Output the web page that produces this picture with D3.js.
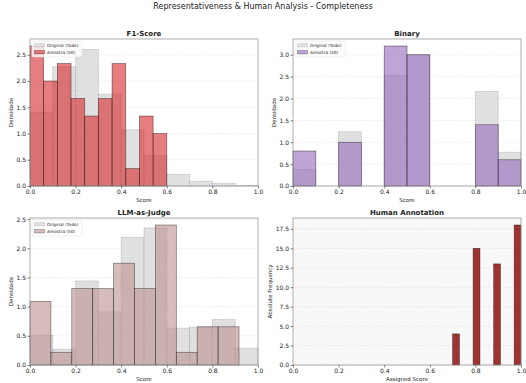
<!DOCTYPE html>
<html>
<head>
<meta charset="utf-8">
<script src="https://cdn.jsdelivr.net/npm/d3@7"></script>
<style>
  body { margin: 0; background: #fff; }
  text { font-family: "DejaVu Sans", sans-serif; fill: #222; }
</style>
</head>
<body>
<div class="chart"></div>
<script>
// bin edges (0..1, width 0.1) shared by the full-population histograms
var originalEdges = [0, 0.1, 0.2, 0.3, 0.4, 0.5, 0.6, 0.7, 0.8, 0.9, 1.0];

// F1-Score
var f1Original = [1.40, 2.27, 2.60, 1.75, 1.07, 0.58, 0.22, 0.09, 0.05, 0.01];
var f1SampleEdges = [0, 0.06, 0.12, 0.18, 0.24, 0.30, 0.36, 0.42, 0.48, 0.54, 0.60];
var f1Sample = [2.667, 2.0, 2.333, 1.667, 1.333, 1.667, 2.333, 0.333, 1.333, 1.0];

// Binary
var binOriginal = [0.38, 0, 1.24, 0, 2.53, 3.0, 0, 0, 2.16, 0.77];
var binSampleEdges = [0, 0.1, 0.2, 0.3, 0.4, 0.5, 0.6, 0.7, 0.8, 0.9, 1.0];
var binSample = [0.8, 0, 1.0, 0, 3.2, 3.0, 0, 0, 1.4, 0.6];

// LLM-as-Judge
var llmOriginal = [0.51, 0.27, 1.44, 0.91, 2.19, 2.35, 0.63, 0.65, 0.78, 0.29];
var llmSampleEdges = [0, 0.0917, 0.1833, 0.275, 0.3667, 0.4583, 0.55, 0.6417, 0.7333, 0.825, 0.9167];
var llmSample = [1.091, 0.218, 1.309, 1.309, 1.745, 1.309, 2.4, 0.218, 0.655, 0.655];

// Human Annotation (absolute counts)
var humanEdges = [0.70, 0.73, 0.76, 0.79, 0.82, 0.85, 0.88, 0.91, 0.94, 0.97, 1.0];
var humanCounts = [4, 0, 0, 15, 0, 0, 13, 0, 0, 18];

var yTicksDensity = [0, 0.5, 1.0, 1.5, 2.0, 2.5];
var yTicksBinary = [0, 0.5, 1.0, 1.5, 2.0, 2.5, 3.0];
var yTicksHuman = [0, 2.5, 5.0, 7.5, 10.0, 12.5, 15.0, 17.5];
var xTicks = [0, 0.2, 0.4, 0.6, 0.8, 1.0];

var svgWidth = 526, svgHeight = 383;

var svg = d3.select(".chart")
    .append("svg")
    .attr("width", svgWidth)
    .attr("height", svgHeight);

svg.append("text")
    .attr("x", 263)
    .attr("y", 9)
    .attr("text-anchor", "middle")
    .style("font-size", "8px")
    .text("Representativeness & Human Analysis - Completeness");

function toBins(edges, values) {
    return values.map(function(v, i) {
        return { x0: edges[i], x1: edges[i + 1], v: v };
    });
}

function drawPanel(opt) {
    var width = opt.right - opt.left;
    var height = opt.bottom - opt.top;
    var g = svg.append("g")
        .attr("transform", "translate(" + opt.left + "," + opt.top + ")");

    var x = d3.scaleLinear().domain([0, 1]).range([0, width]);
    var y = d3.scaleLinear().domain([0, opt.ymax]).range([height, 0]);

    g.append("rect")
        .attr("width", width)
        .attr("height", height)
        .attr("fill", opt.bg || "#fff");

    // dashed horizontal grid
    g.selectAll(".grid")
        .data(opt.yTicks)
        .enter()
        .append("line")
        .attr("x1", 0)
        .attr("x2", width)
        .attr("y1", function(d) { return y(d); })
        .attr("y2", function(d) { return y(d); })
        .attr("stroke", "#d8d8d8")
        .attr("stroke-width", 0.5)
        .attr("stroke-dasharray", "2,1.5");

    if (opt.original) {
        g.selectAll(".orig")
            .data(toBins(originalEdges, opt.original))
            .enter()
            .append("rect")
            .attr("x", function(d) { return x(d.x0); })
            .attr("width", function(d) { return x(d.x1) - x(d.x0); })
            .attr("y", function(d) { return y(d.v); })
            .attr("height", function(d) { return y(0) - y(d.v); })
            .attr("fill", "#d3d3d3")
            .attr("fill-opacity", 0.7)
            .attr("stroke", "#a0a0a0")
            .attr("stroke-width", 0.6)
            .attr("stroke-dasharray", "1.5,1");
    }

    g.selectAll(".sample")
        .data(toBins(opt.edges, opt.sample))
        .enter()
        .append("rect")
        .attr("x", function(d) { return x(d.x0); })
        .attr("width", function(d) { return x(d.x1) - x(d.x0); })
        .attr("y", function(d) { return y(d.v); })
        .attr("height", function(d) { return y(0) - y(d.v); })
        .attr("fill", opt.color)
        .attr("fill-opacity", opt.alpha)
        .attr("stroke", "#000")
        .attr("stroke-opacity", 0.5)
        .attr("stroke-width", 0.7);

    // frame
    g.append("rect")
        .attr("width", width)
        .attr("height", height)
        .attr("fill", "none")
        .attr("stroke", "#9a9a9a")
        .attr("stroke-width", 0.8);

    var bottomAxis = d3.axisBottom(x).tickValues(xTicks).tickFormat(d3.format(".1f")).tickSize(2.5).tickPadding(1.5);
    var leftAxis = d3.axisLeft(y).tickValues(opt.yTicks).tickFormat(d3.format(".1f")).tickSize(2.5).tickPadding(1.5);

    var xa = g.append("g")
        .attr("transform", "translate(0," + height + ")")
        .call(bottomAxis);
    var ya = g.append("g").call(leftAxis);
    [xa, ya].forEach(function(a) {
        a.select(".domain").remove();
        a.selectAll("line").attr("stroke", "#333").attr("stroke-width", 0.6);
        a.selectAll("text").style("font-size", "6px").attr("fill", "#333");
    });

    g.append("text")
        .attr("x", width / 2)
        .attr("y", -3)
        .attr("text-anchor", "middle")
        .style("font-size", "7px")
        .style("font-weight", "bold")
        .text(opt.title);

    g.append("text")
        .attr("x", width / 2)
        .attr("y", height + 16)
        .attr("text-anchor", "middle")
        .style("font-size", "5.5px")
        .text(opt.xlabel);

    g.append("text")
        .attr("transform", "rotate(-90)")
        .attr("x", -height / 2)
        .attr("y", opt.ylabelX)
        .attr("text-anchor", "middle")
        .style("font-size", "5.5px")
        .text(opt.ylabel);

    if (opt.original) {
        var lg = g.append("g").attr("transform", "translate(2,2)");
        lg.append("rect")
            .attr("width", 50)
            .attr("height", 16)
            .attr("rx", 1.5)
            .attr("fill", "#fff")
            .attr("fill-opacity", 0.8)
            .attr("stroke", "#dcdcdc")
            .attr("stroke-width", 0.5);
        lg.append("rect")
            .attr("x", 2.5).attr("y", 2.5)
            .attr("width", 10).attr("height", 3.5)
            .attr("fill", "#d3d3d3").attr("fill-opacity", 0.7)
            .attr("stroke", "#a0a0a0").attr("stroke-width", 0.5)
            .attr("stroke-dasharray", "1,0.8");
        lg.append("rect")
            .attr("x", 2.5).attr("y", 9.5)
            .attr("width", 10).attr("height", 3.5)
            .attr("fill", opt.color).attr("fill-opacity", opt.alpha)
            .attr("stroke", "#000").attr("stroke-opacity", 0.5).attr("stroke-width", 0.5);
        lg.append("text")
            .attr("x", 15).attr("y", 5.8)
            .style("font-size", "4.3px")
            .text("Original (Todo)");
        lg.append("text")
            .attr("x", 15).attr("y", 12.8)
            .style("font-size", "4.3px")
            .text("Amostra (50)");
    }
}

drawPanel({
    left: 30, right: 258, top: 39, bottom: 186,
    title: "F1-Score", xlabel: "Score", ylabel: "Densidade", ylabelX: -17,
    ymax: 2.8, yTicks: yTicksDensity,
    original: f1Original, edges: f1SampleEdges, sample: f1Sample,
    color: "#d62728", alpha: 0.6
});

drawPanel({
    left: 293, right: 521, top: 39, bottom: 186,
    title: "Binary", xlabel: "Score", ylabel: "Densidade", ylabelX: -17,
    ymax: 3.36, yTicks: yTicksBinary,
    original: binOriginal, edges: binSampleEdges, sample: binSample,
    color: "#9467bd", alpha: 0.6
});

drawPanel({
    left: 30, right: 258, top: 218, bottom: 365,
    title: "LLM-as-Judge", xlabel: "Score", ylabel: "Densidade", ylabelX: -17,
    ymax: 2.52, yTicks: yTicksDensity,
    original: llmOriginal, edges: llmSampleEdges, sample: llmSample,
    color: "#bc8f8f", alpha: 0.6
});

drawPanel({
    left: 293, right: 521, top: 218, bottom: 365,
    title: "Human Annotation", xlabel: "Assigned Score", ylabel: "Absolute Frequency", ylabelX: -21,
    ymax: 18.9, yTicks: yTicksHuman, bg: "#f8f8f8",
    original: null, edges: humanEdges, sample: humanCounts,
    color: "#8b0000", alpha: 0.8
});
</script>
</body>
</html>
